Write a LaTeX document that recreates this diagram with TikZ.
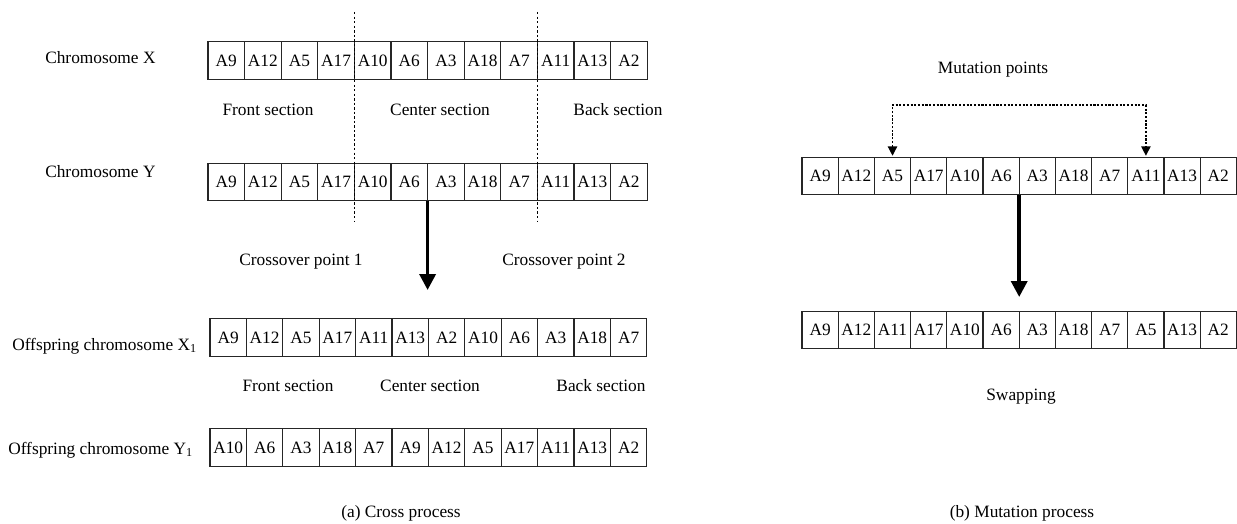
\documentclass[tikz,border=0pt]{standalone}
\usepackage{fontspec}
\setmainfont{Liberation Serif}
\usetikzlibrary{arrows.meta}
\newcommand\chromrow[5]{%
  \foreach \t [count=\i] in {#5} {%
    \node[cell, minimum width={#4*0.75pt}] (#1\i) at ({#2+(\i-1)*#4}, #3) {\t};
  }%
}
\begin{document}
\begin{tikzpicture}[x=0.75pt,y=-0.75pt,
  every node/.style={font=\fontsize{13}{15}\selectfont},
  cell/.style={draw=black!85, line width=0.95pt, minimum height=28pt,
    inner sep=0pt, outer sep=0pt, anchor=west},
  lbl/.style={anchor=west, inner sep=0pt},
  txt/.style={inner sep=0pt},
  cutline/.style={line width=0.95pt, dash pattern=on 1.8pt off 1.6pt},
  bigarrow/.style={line width=2.7pt, -{Triangle[length=12pt,width=12pt]}},
  mutarrow/.style={line width=0.95pt, dash pattern=on 1.6pt off 1.2pt,
    {Triangle[length=7pt,width=7pt]}-{Triangle[length=7pt,width=7pt]},
    shorten <=1.2pt, shorten >=1.2pt}
]
\useasboundingbox (0,0) rectangle (1237,524);

% ---- (a) Cross process ----
\chromrow{x}{208}{60.5}{36.6}{A9,A12,A5,A17,A10,A6,A3,A18,A7,A11,A13,A2}
\chromrow{y}{208}{182}{36.6}{A9,A12,A5,A17,A10,A6,A3,A18,A7,A11,A13,A2}
\chromrow{p}{210}{337.5}{36.4}{A9,A12,A5,A17,A11,A13,A2,A10,A6,A3,A18,A7}
\chromrow{q}{210}{447.5}{36.4}{A10,A6,A3,A18,A7,A9,A12,A5,A17,A11,A13,A2}

\node[lbl] (lx) at (45,58) {Chromosome X};
\node[lbl] (ly) at (45,172) {Chromosome Y};
\node[lbl] (lp) at (12,346) {Offspring chromosome X\textsubscript{1}};
\node[lbl] (lq) at (8,450) {Offspring chromosome Y\textsubscript{1}};

\node[txt] (f1) at (268,110) {Front section};
\node[txt] (c1) at (440,110) {Center section};
\node[txt] (b1) at (618,110) {Back section};
\node[txt] (cp1) at (301,262) {Crossover point 1};
\node[txt] (cp2) at (564,262) {Crossover point 2};
\node[txt] (f2) at (288,386) {Front section};
\node[txt] (c2) at (430,386) {Center section};
\node[txt] (b2) at (601,386) {Back section};

\coordinate (cut1t) at (x4.north east |- 0,12);
\coordinate (cut1b) at (x4.north east |- 0,222);
\coordinate (cut2t) at (x9.north east |- 0,12);
\coordinate (cut2b) at (x9.north east |- 0,222);
\draw[cutline] (cut1t) -- (cut1b);
\draw[cutline] (cut2t) -- (cut2b);

\coordinate (arrL) at (y6.south east |- 0,290);
\draw[bigarrow] (y6.south east) -- (arrL);

\node[txt] (capa) at (401,513) {(a) Cross process};

% ---- (b) Mutation process ----
\chromrow{r}{802}{176}{36.2}{A9,A12,A5,A17,A10,A6,A3,A18,A7,A11,A13,A2}
\chromrow{s}{802}{330}{36.2}{A9,A12,A11,A17,A10,A6,A3,A18,A7,A5,A13,A2}

\node[txt] (mp) at (993,70) {Mutation points};
\coordinate (mtop) at (1019,105);
\draw[mutarrow] (r3.north) |- (mtop) -| (r10.north);

\coordinate (arrR) at (r6.south east |- 0,297);
\draw[bigarrow] (r6.south east) -- (arrR);

\node[txt] (sw) at (1021,397) {Swapping};
\node[txt] (capb) at (1022,513) {(b) Mutation process};
\end{tikzpicture}
\end{document}
